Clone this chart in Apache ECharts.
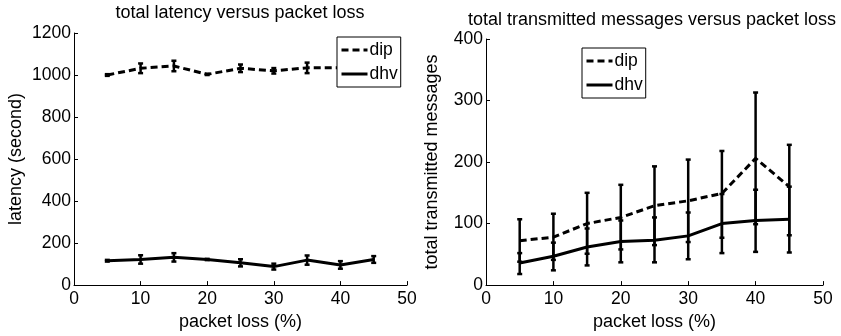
<!DOCTYPE html>
<html>
<head>
<meta charset="utf-8">
<script src="https://cdn.jsdelivr.net/npm/echarts@6/dist/echarts.min.js"></script>
<style>
  html, body { margin: 0; padding: 0; background: #fff; }
  #chart { width: 841px; height: 336px; }
</style>
</head>
<body>
<div id="chart"></div>
<script>
// packet loss (%) on both x axes
var lossPct = [5, 10, 15, 20, 25, 30, 35, 40, 45];

// left: total latency (second), mean and half error
var latDip    = [1000, 1032, 1043, 1003, 1032, 1020, 1034, 1035, 1038];
var latDipErr = [4, 23, 25, 3, 18, 13, 25, 20, 20];
var latDhv    = [116, 122, 132, 122, 106, 88, 119, 96, 122];
var latDhvErr = [4, 20, 20, 3, 17, 14, 22, 18, 16];

// right: total transmitted messages, mean, lower and upper bar ends
var msgDip     = [72, 78, 100, 110, 129, 137, 149, 206, 160];
var msgDipLow  = [38, 41, 51, 58, 65, 70, 77, 99, 81];
var msgDipHigh = [107, 116, 150, 163, 193, 204, 218, 313, 228];
var msgDhv     = [36, 47, 62, 71, 73, 80, 100, 105, 107];
var msgDhvLow  = [18, 24, 32, 37, 37, 42, 52, 54, 53];
var msgDhvHigh = [52, 69, 92, 105, 110, 118, 148, 155, 160];

var FONT = 'Liberation Sans, Arial, sans-serif';

function pairs(ys) {
    return lossPct.map(function (x, i) { return [x, ys[i]]; });
}
function bars(lo, hi) {
    return lossPct.map(function (x, i) { return [x, lo[i], hi[i]]; });
}
function barsErr(mean, err) {
    return lossPct.map(function (x, i) { return [x, mean[i] - err[i], mean[i] + err[i]]; });
}

// vertical error bar with little caps
function renderBar(params, api) {
    var x = api.value(0);
    var lo = api.coord([x, api.value(1)]);
    var hi = api.coord([x, api.value(2)]);
    var c = 2.5;
    var st = { stroke: '#000', lineWidth: 2.5 };
    return {
        type: 'group',
        children: [
            { type: 'line', shape: { x1: lo[0], y1: lo[1], x2: hi[0], y2: hi[1] }, style: st },
            { type: 'line', shape: { x1: lo[0] - c, y1: lo[1], x2: lo[0] + c, y2: lo[1] }, style: st },
            { type: 'line', shape: { x1: hi[0] - c, y1: hi[1], x2: hi[0] + c, y2: hi[1] }, style: st }
        ]
    };
}

function xAx(gi) {
    return {
        gridIndex: gi, type: 'value', min: 0, max: 50, interval: 10,
        name: 'packet loss (%)', nameLocation: 'middle', nameGap: 23,
        nameTextStyle: { fontSize: 18, color: '#000', fontFamily: FONT },
        axisLine: { lineStyle: { color: '#000', width: 1 } },
        axisTick: { inside: true, length: 4, lineStyle: { color: '#000' } },
        axisLabel: { fontSize: 17.5, color: '#000', fontFamily: FONT, margin: 5 },
        splitLine: { show: false }
    };
}
function yAx(gi, max, step, name, gap) {
    return {
        gridIndex: gi, type: 'value', min: 0, max: max, interval: step,
        name: name, nameLocation: 'middle', nameGap: gap,
        nameTextStyle: { fontSize: 18, color: '#000', fontFamily: FONT },
        axisLine: { show: true, lineStyle: { color: '#000', width: 1 } },
        axisTick: { show: true, inside: true, length: 4, lineStyle: { color: '#000' } },
        axisLabel: { fontSize: 17.5, color: '#000', fontFamily: FONT, margin: 3,
                     formatter: function (v) { return String(v); } },
        splitLine: { show: false }
    };
}
function lineSeries(name, gi, data, dashed) {
    return {
        name: name, type: 'line', xAxisIndex: gi, yAxisIndex: gi,
        data: data, symbol: 'none', z: 3,
        lineStyle: { color: '#000', width: 3, type: dashed ? [7, 4] : 'solid' },
        itemStyle: { color: '#000' }
    };
}
function barSeries(gi, data) {
    return {
        type: 'custom', xAxisIndex: gi, yAxisIndex: gi,
        data: data, renderItem: renderBar, z: 2,
        encode: { x: 0, y: [1, 2] }
    };
}
function legendAt(left, top) {
    return {
        data: ['dip', 'dhv'], orient: 'vertical', left: left, top: top,
        backgroundColor: '#fff', borderColor: '#000', borderWidth: 1,
        padding: [4, 3, 4, 3], itemGap: 6, itemWidth: 26, itemHeight: 16,
        itemStyle: { opacity: 0 },
        lineStyle: { width: 3 },
        textStyle: { fontSize: 17.5, color: '#000', fontFamily: FONT, padding: [0, 0, 0, -3] },
        selectedMode: false
    };
}

var option = {
    backgroundColor: '#fff',
    animation: false,
    title: [
        { text: 'total latency versus packet loss', left: 240, top: 4, textAlign: 'center', padding: 0,
          textStyle: { fontSize: 18, fontWeight: 'normal', color: '#000', fontFamily: FONT } },
        { text: 'total transmitted messages versus packet loss', left: 652, top: 11, textAlign: 'center', padding: 0,
          textStyle: { fontSize: 18, fontWeight: 'normal', color: '#000', fontFamily: FONT } }
    ],
    legend: [legendAt(337, 37), legendAt(582, 48)],
    grid: [
        { left: 74, top: 33, width: 333, height: 260 },
        { left: 486, top: 39, width: 337, height: 255 }
    ],
    xAxis: [xAx(0), xAx(1)],
    yAxis: [
        yAx(0, 1200, 200, 'latency (second)', 49),
        yAx(1, 400, 100, 'total transmitted messages', 45)
    ],
    series: [
        barSeries(0, barsErr(latDip, latDipErr)),
        barSeries(0, barsErr(latDhv, latDhvErr)),
        lineSeries('dip', 0, pairs(latDip), true),
        lineSeries('dhv', 0, pairs(latDhv), false),
        barSeries(1, bars(msgDipLow, msgDipHigh)),
        barSeries(1, bars(msgDhvLow, msgDhvHigh)),
        lineSeries('dip', 1, pairs(msgDip), true),
        lineSeries('dhv', 1, pairs(msgDhv), false)
    ]
};

var myChart = echarts.init(document.getElementById('chart'));
myChart.setOption(option);
</script>
</body>
</html>
